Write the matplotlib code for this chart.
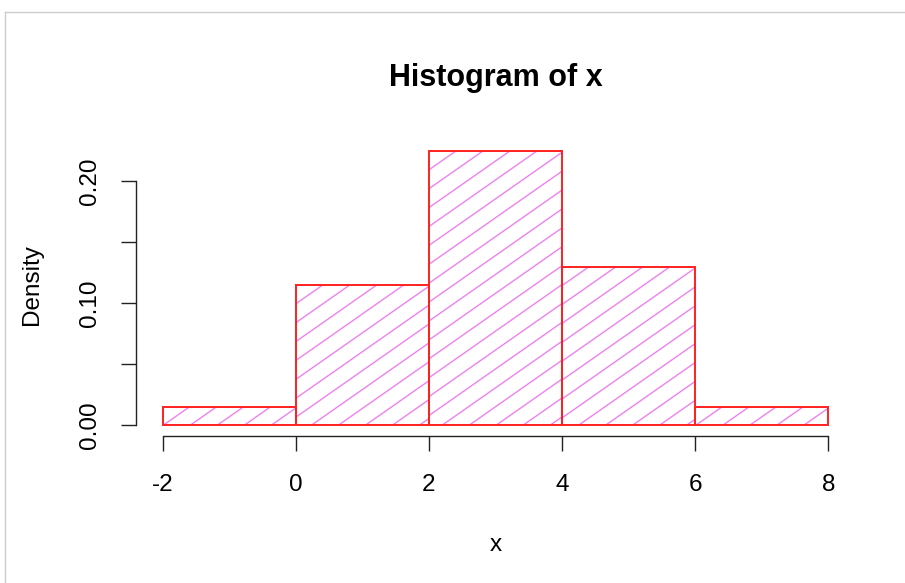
import numpy as np
import matplotlib
matplotlib.use("Agg")
import matplotlib.pyplot as plt
from matplotlib.collections import LineCollection
from matplotlib.lines import Line2D

# Data
bin_edges = [-2, 0, 2, 4, 6, 8]
densities = [0.015, 0.115, 0.225, 0.13, 0.015]
x_ticks = [-2, 0, 2, 4, 6, 8]
y_ticks = [0.00, 0.05, 0.10, 0.15, 0.20]
y_tick_labels = ["0.00", "", "0.10", "", "0.20"]

plt.rcParams['font.family'] = ['Liberation Sans', 'DejaVu Sans']

W, H = 905, 583
fig = plt.figure(figsize=(W / 100, H / 100), dpi=100)
ax = fig.add_axes([136 / W, 1 - 436 / H, 719 / W, 296 / H])
ax.set_xlim(-2.4, 8.4)
ax.set_ylim(-0.009, 0.234)

lefts = np.array(bin_edges[:-1], dtype=float)
widths = np.diff(bin_edges).astype(float)
bars = ax.bar(lefts, densities, width=widths, align='edge',
              facecolor='none', edgecolor='#ff2020', linewidth=1.4, zorder=3)

# Hatching lines (R-style density shading), clipped to each bar
slope_px = 0.70          # rise per run in pixels
spacing_px = 27.0        # horizontal spacing in pixels
px_per_x = 719 / 10.8
px_per_y = 296 / 0.243
slope = slope_px * px_per_x / px_per_y
spacing = spacing_px / px_per_x
for rect in bars:
    x0 = rect.get_x()
    w = rect.get_width()
    h = rect.get_height()
    segs = []
    c = x0 - h / slope - spacing
    while c < x0 + w:
        xa = -3.0
        xb = 9.0
        segs.append([(xa, slope * (xa - c)), (xb, slope * (xb - c))])
        c += spacing
    lc = LineCollection(segs, colors='#ee82ee', linewidths=1.0, zorder=2.5)
    ax.add_collection(lc)
    lc.set_clip_path(rect)

for s in ['top', 'right']:
    ax.spines[s].set_visible(False)
ax.spines['bottom'].set_bounds(-2, 8)
ax.spines['left'].set_bounds(0, 0.2)
for s in ['bottom', 'left']:
    ax.spines[s].set_linewidth(1.0)
    ax.spines[s].set_color('#222222')

ax.set_xticks(x_ticks)
ax.set_xticklabels([str(t) for t in x_ticks])
ax.set_yticks(y_ticks)
ax.set_yticklabels(y_tick_labels, rotation=90, va='center')
ax.tick_params(axis='x', length=10.8, width=1.0, pad=16.5, labelsize=17.5, colors='#222222', labelcolor='black')
ax.tick_params(axis='y', length=10.8, width=1.0, pad=14.4, labelsize=17.5, colors='#222222', labelcolor='black')

fig.text(495.5 / W, 1 - 78 / H, "Histogram of x", ha='center', va='center',
         fontsize=22, fontweight='bold')
fig.text(495.5 / W, 1 - 545 / H, "x", ha='center', va='center', fontsize=17.5)
fig.text(32 / W, 1 - 285 / H, "Density", ha='center', va='center', fontsize=17.5, rotation=90)

# light grey screenshot frame
fig.add_artist(Line2D([5 / W, 5 / W], [0, 1 - 12 / H], transform=fig.transFigure, color='#cccccc', lw=1))
fig.add_artist(Line2D([5 / W, 1], [1 - 12 / H, 1 - 12 / H], transform=fig.transFigure, color='#cccccc', lw=1))

fig.savefig("out.png", dpi=100)
